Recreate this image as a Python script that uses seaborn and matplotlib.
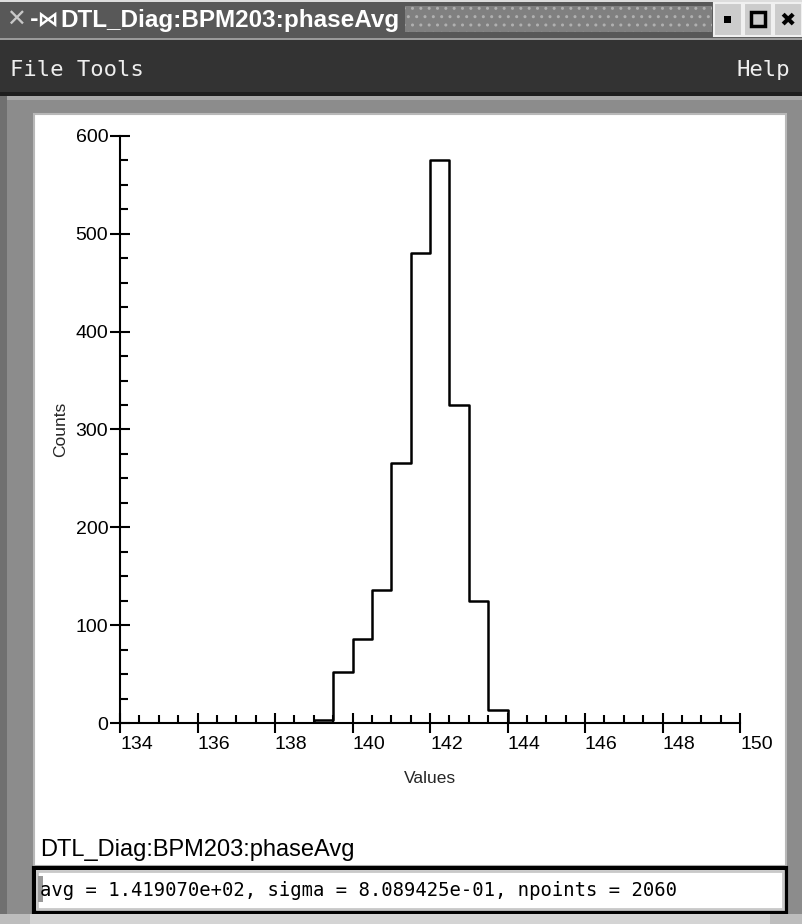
import numpy as np
import pandas as pd
import seaborn as sns
import matplotlib.pyplot as plt
from matplotlib.patches import Rectangle
from matplotlib.ticker import MultipleLocator

# histogram of DTL_Diag:BPM203:phaseAvg
bin_edges = [139.0, 139.5, 140.0, 140.5, 141.0, 141.5, 142.0, 142.5, 143.0, 143.5, 144.0]
bin_centers = [139.25, 139.75, 140.25, 140.75, 141.25, 141.75, 142.25, 142.75, 143.25, 143.75]
counts = [3, 52, 86, 136, 266, 480, 575, 325, 125, 13]
x_ticks = [134, 136, 138, 140, 142, 144, 146, 148, 150]
y_ticks = [0, 100, 200, 300, 400, 500, 600]
pv_name = 'DTL_Diag:BPM203:phaseAvg'
stats_text = 'avg = 1.419070e+02, sigma = 8.089425e-01, npoints = 2060'

W, H = 803, 924

sns.set_style('ticks')
plt.rcParams['font.family'] = ['Liberation Sans', 'DejaVu Sans']

fig = plt.figure(figsize=(W / 100, H / 100), dpi=100, facecolor='#8c8c8c')


def box(x, y, w, h, **kw):
    # pixel coords, origin top-left
    r = Rectangle((x / W, 1 - (y + h) / H), w / W, h / H, transform=fig.transFigure, **kw)
    fig.add_artist(r)
    return r


def label(x, y, s, **kw):
    fig.text(x / W, 1 - y / H, s, **kw)


# title bar
box(0, 0, W, 38, facecolor='#585858', edgecolor='none')
box(0, 0, W, 2, facecolor='#dddddd', edgecolor='none')
box(405, 6, 307, 26, facecolor='#808080', edgecolor='#b0b0b0', hatch='..', linewidth=0)
label(6, 20, '\u2715', color='#c8c8c8', fontsize=17, va='center', family=['DejaVu Sans'])
label(30, 20, '-\u22c8', color='white', fontsize=15, va='center', weight='bold', family=['DejaVu Sans'])
label(60, 20, pv_name, color='white', fontsize=17.5, va='center', weight='bold')
for bx, glyph in [(714, 'sq'), (744, 'hollow'), (774, 'x')]:
    box(bx, 3, 28, 33, facecolor='#cccccc', edgecolor='#f0f0f0', linewidth=1.5)
    if glyph == 'sq':
        box(bx + 10, 16, 7, 7, facecolor='black', edgecolor='none')
    elif glyph == 'hollow':
        box(bx + 7, 12, 14, 14, facecolor='none', edgecolor='black', linewidth=2.5)
    else:
        label(bx + 14, 20, '\u2716', color='black', fontsize=14, ha='center', va='center',
              family=['DejaVu Sans'])

# menu bar
box(0, 38, W, 58, facecolor='#333333', edgecolor='none')
box(0, 38, W, 2, facecolor='#9a9a9a', edgecolor='none')
box(0, 92, W, 4, facecolor='#1e1e1e', edgecolor='none')
label(10, 70, 'File Tools', color='#eeeeee', fontsize=16, va='center', family=['DejaVu Sans Mono'])
label(790, 70, 'Help', color='#eeeeee', fontsize=16, va='center', ha='right', family=['DejaVu Sans Mono'])

# frame and white panel
box(0, 96, W, 4, facecolor='#a8a8a8', edgecolor='none')
box(0, 96, 7, H - 96, facecolor='#707070', edgecolor='none')
box(34, 114, 752, 752, facecolor='white', edgecolor='#b8b8b8', linewidth=1.5)
label(40, 850, pv_name, color='black', fontsize=17, va='center')

# stats field
box(34, 868, 752, 44, facecolor='white', edgecolor='black', linewidth=3)
box(37, 871, 746, 38, facecolor='none', edgecolor='#c8c8c8', linewidth=2)
box(38, 876, 5, 26, facecolor='#999999', edgecolor='none')
label(40, 890, stats_text, color='black', fontsize=13.6, va='center', family=['DejaVu Sans Mono'])

# bottom strip
box(0, 914, W, 10, facecolor='#d4d4d4', edgecolor='none')
box(0, 914, 30, 10, facecolor='#bdbdbd', edgecolor='none')
box(770, 914, 33, 10, facecolor='#bdbdbd', edgecolor='none')

# histogram axes
ax = fig.add_axes([120 / W, 1 - 723 / H, 620 / W, 587 / H])
ax.set_zorder(10)
ax.set_facecolor('none')
hist_df = pd.DataFrame({'value': bin_centers, 'count': counts})
sns.histplot(data=hist_df, x='value', weights='count', bins=bin_edges, element='step',
             fill=False, color='black', linewidth=1.8, ax=ax)
# close the outline at both ends
ax.vlines([bin_edges[0], bin_edges[-1]], 0, [counts[0], counts[-1]], color='black', linewidth=1.8)

ax.set_xlim(134, 150)
ax.set_ylim(0, 600)
ax.set_xticks(x_ticks)
ax.set_yticks(y_ticks)
ax.xaxis.set_minor_locator(MultipleLocator(0.5))
ax.yaxis.set_minor_locator(MultipleLocator(25))
ax.tick_params(which='major', direction='inout', length=15, width=1.5, colors='black',
               labelsize=14, pad=1, left=True, bottom=True)
ax.tick_params(which='minor', direction='in', length=6, width=1.5, colors='black',
               left=True, bottom=True)
ax.tick_params(axis='x', which='major', pad=2)
for t in ax.get_xticklabels():
    t.set_horizontalalignment('left')
for side in ['top', 'right']:
    ax.spines[side].set_visible(False)
for side in ['left', 'bottom']:
    ax.spines[side].set_linewidth(1.5)
    ax.spines[side].set_color('black')
ax.set_xlabel('Values', fontsize=12.5, labelpad=13)
ax.set_ylabel('Counts', fontsize=12.5, labelpad=5)

fig.savefig('out.png', dpi=100, facecolor=fig.get_facecolor())
